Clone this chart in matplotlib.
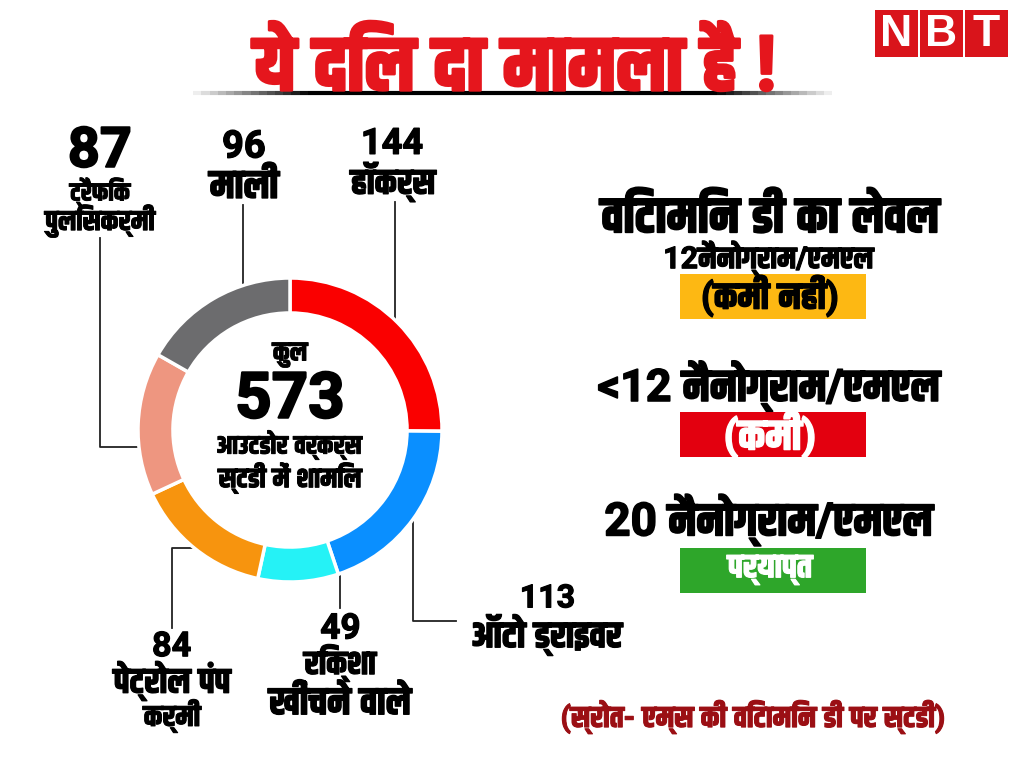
import numpy as np
import matplotlib
matplotlib.use("Agg")
import matplotlib.pyplot as plt
import matplotlib.patheffects as pe
from matplotlib.patches import Rectangle
from matplotlib.collections import LineCollection
from matplotlib.textpath import TextPath
from matplotlib.font_manager import FontProperties

# --- DANE ---
groups = ["हॉकर्स", "ऑटो ड्राइवर", "रिक्शा\nखींचने वाले", "पेट्रोल पंप\nकर्मी", "ट्रैफिक\nपुलिसकर्मी", "माली"]
counts = [144, 113, 49, 84, 87, 96]
ring_colors = ["#FA0000", "#0A8FFF", "#25F2F6", "#F7940E", "#EE9680", "#6C6C6E"]

title = "ये दिल दा मामला है !"
center_lines = ["कुल", str(sum(counts)), "आउटडोर वर्कर्स", "स्टडी में शामिल"]
level_head = "विटामिन डी का लेवल"
levels = ["12नैनोग्राम/एमएल", "<12 नैनोग्राम/एमएल", "20 नैनोग्राम/एमएल"]
level_tags = ["(कमी नहीं)", "(कमी)", "पर्याप्त"]
source = "(स्रोत- एम्स की विटामिन डी पर स्टडी)"

W, H = 1020, 765
FONT = ["Roboto", "Khand", "Hind", "Noto Sans Devanagari", "DejaVu Sans"]
PROP = FontProperties(family=FONT, weight="bold")
CX, CY, R = 290, 430, 152

fig = plt.figure(figsize=(W / 100, H / 100), dpi=100)
ax = fig.add_axes([0, 0, 1, 1])
ax.set_xlim(0, W)
ax.set_ylim(H, 0)
ax.axis("off")


def put(x, y, s, w, h, color="black"):
    # napis mniej wiecej w prostokacie w x h (piksele) ze srodkiem w (x, y)
    e = TextPath((0, 0), s, size=100, prop=PROP).get_extents()
    fs = 72 * np.sqrt(w / e.width * h / e.height)
    k = fs / 72
    x0 = x - (e.x0 + e.x1) / 2 * k
    y0 = y + (e.y0 + e.y1) / 2 * k
    return ax.text(x0, y0, s, ha="left", va="baseline", fontsize=fs, color=color,
                   fontproperties=PROP, zorder=5,
                   path_effects=[pe.withStroke(linewidth=fs * 0.035, foreground=color)])


# --- PIERSCIEN ---
pax = fig.add_axes([(CX - R) / W, 1 - (CY + R) / H, 2 * R / W, 2 * R / H])
pax.pie(counts, colors=ring_colors, startangle=90, counterclock=False, radius=1,
        wedgeprops=dict(width=0.23, edgecolor="white", linewidth=2.5))
pax.set_xlim(-1, 1)
pax.set_ylim(-1, 1)
pax.axis("off")

# --- TYTUL ---
put(512, 56, title, 650, 56, color="#E5161D")
xs = np.linspace(185, 832, 80)
segs = [[(xs[i], 93), (xs[i + 1], 93)] for i in range(len(xs) - 1)]
fade = np.clip(np.minimum(xs[:-1] - 185, 832 - xs[:-1]) / 120, 0, 1)
ax.add_collection(LineCollection(segs, colors=[(0, 0, 0, a) for a in fade], linewidths=3))

# logo NBT
for i, ch in enumerate("NBT"):
    x0 = 875 + i * 45
    ax.add_patch(Rectangle((x0, 10), 43, 47, facecolor="#D9141B", edgecolor="none"))
    ax.text(x0 + 21.5, 34, ch, ha="center", va="center", color="white", fontsize=32,
            family=["Liberation Sans", "DejaVu Sans"], weight="bold")

# --- ETYKIETY I LINIE ---
# (x, srodek liczby, szer., wys.) oraz kolejne wiersze nazwy: (srodek y, szer., wys.)
num_box = [(393, 141, 60, 25), (548, 596, 50, 24), (340, 626, 40, 24),
           (172, 644, 40, 23), (100, 147, 60, 40), (244, 144, 47, 24)]
name_box = [
    [(182, 105, 33)],
    [(635, 177, 35)],
    [(663, 92, 30), (697, 168, 30)],
    [(681, 143, 33), (716, 70, 28)],
    [(192, 74, 24), (221, 122, 30)],
    [(180, 83, 31)],
]
leaders = [
    [(395, 202), (395, 345)],
    [(413, 478), (413, 621), (456, 621)],
    [(340, 553), (340, 608)],
    [(230, 548), (172, 548), (172, 628)],
    [(100, 238), (100, 447), (157, 447)],
    [(243, 205), (243, 296)],
]
for name, n, (x, yn, wn, hn), rows, pts in zip(groups, counts, num_box, name_box, leaders):
    put(x, yn, str(n), wn, hn)
    for line, (yl, wl, hl) in zip(name.split("\n"), rows):
        put(x, yl, line, wl, hl)
    px, py = zip(*pts)
    ax.plot(px, py, color="#222222", lw=1.3, zorder=4)

# srodek pierscienia
for s, (y, w, h) in zip(center_lines, [(355, 45, 20), (395, 109, 44), (445, 170, 25), (478, 167, 27)]):
    put(CX, y, s, w, h)

# --- PRAWA STRONA ---
put(770, 210, level_head, 390, 40)
box_colors = ["#FDB813", "#E3000F", "#2EA62A"]
tag_colors = ["black", "white", "white"]
lev_box = [(258, 266, 27), (386, 368, 47), (520, 362, 47)]
tag_box = [(296, 165, 34), (435, 114, 37), (570, 92, 28)]
box_top = [274, 412, 548]
for s, tag, by, (ly, lw_, lh), (ty, tw, th), bc, tc in zip(levels, level_tags, box_top, lev_box, tag_box,
                                                          box_colors, tag_colors):
    put(770, ly, s, lw_, lh)
    ax.add_patch(Rectangle((680, by), 186, 45, facecolor=bc, edgecolor="none", zorder=3))
    put(770, ty, tag, tw, th, color=tc)

put(753, 717, source, 477, 27, color="#9B0F14")

fig.savefig("out.png", dpi=100)
